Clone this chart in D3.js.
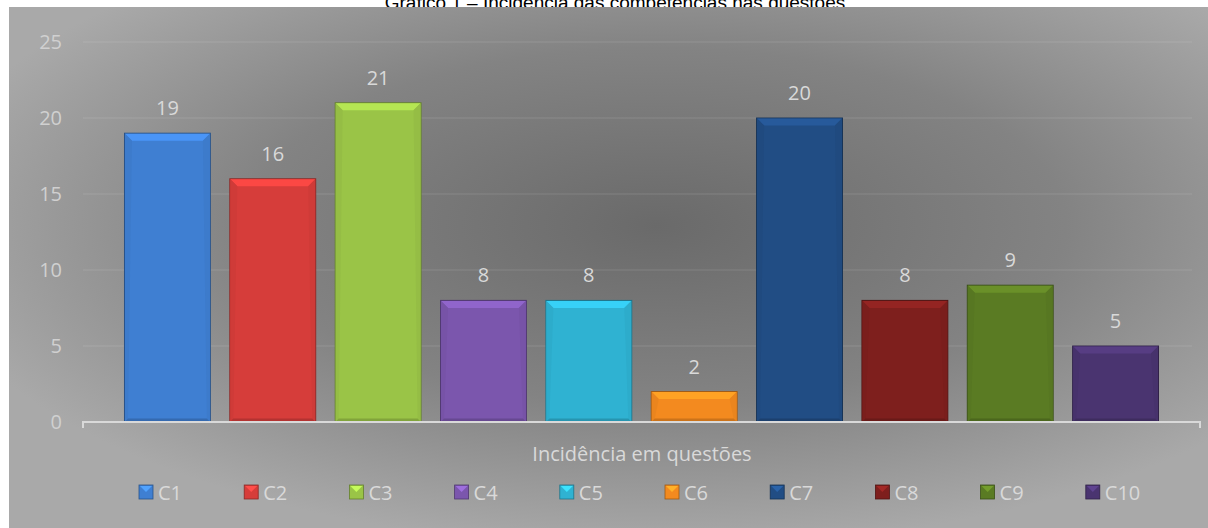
<!DOCTYPE html>
<html lang="pt">
<head>
<meta charset="UTF-8">
<title>Gráfico 1</title>
<script src="https://cdn.jsdelivr.net/npm/d3@7"></script>
<style>
  body { margin: 0; background: #fff; }
  text { font-family: "Open Sans", sans-serif; }
</style>
</head>
<body>
<script>
    // dados do gráfico
    var categories = ["C1", "C2", "C3", "C4", "C5", "C6", "C7", "C8", "C9", "C10"];
    var values = [19, 16, 21, 8, 8, 2, 20, 8, 9, 5];
    var colors = ["#3f7fd2", "#d63d3a", "#9ac447", "#7b56ad", "#2fb2d2", "#f38a1f", "#214d84", "#7e1f1d", "#5a7b23", "#4a3470"];
    var yTicks = [0, 5, 10, 15, 20, 25];

    var width = 1208, height = 528;

    var svg = d3.select("body").append("svg")
        .attr("width", width)
        .attr("height", height);

    var defs = svg.append("defs");
    var bg = defs.append("radialGradient")
        .attr("id", "bg")
        .attr("cx", 0.54).attr("cy", 0.42).attr("r", 0.62);
    bg.append("stop").attr("offset", 0).attr("stop-color", "#6a6a6a");
    bg.append("stop").attr("offset", 0.55).attr("stop-color", "#838383");
    bg.append("stop").attr("offset", 1).attr("stop-color", "#a9a9a9");

    // título (parcialmente coberto pela área do gráfico)
    svg.append("text")
        .attr("x", 615).attr("y", 9)
        .attr("text-anchor", "middle")
        .style("font-family", "'Liberation Sans', Arial, sans-serif")
        .style("font-size", "19px")
        .attr("fill", "#000")
        .text("Gráfico 1 – Incidência das competências nas questões");

    svg.append("rect")
        .attr("x", 9).attr("y", 7)
        .attr("width", width - 9).attr("height", height - 7)
        .attr("fill", "url(#bg)");

    var x = d3.scaleBand()
        .domain(categories)
        .range([115, 1168])
        .paddingInner(0.185)
        .paddingOuter(0.09);

    var y = d3.scaleLinear()
        .domain([0, 25])
        .range([422, 42]);

    var axisLeft = 83, axisRight = 1200;

    // linhas de grade
    svg.selectAll(".grid")
        .data(yTicks.filter(function (d) { return d > 0; }))
        .enter().append("line")
        .attr("x1", axisLeft).attr("x2", axisRight - 8)
        .attr("y1", function (d) { return y(d); })
        .attr("y2", function (d) { return y(d); })
        .attr("stroke", "rgba(255,255,255,0.13)")
        .attr("stroke-width", 1.2);

    // rótulos do eixo y
    var gy = svg.append("g")
        .attr("transform", "translate(62,0)")
        .call(d3.axisLeft(y).tickValues(yTicks).tickSize(0).tickPadding(0));
    gy.select(".domain").remove();
    gy.selectAll("text")
        .attr("fill", "#d0d0d0")
        .style("font-size", "20px")
        .style("font-family", "'Open Sans', sans-serif");

    // barras com efeito de chanfro
    var bw = x.bandwidth();
    var bars = svg.selectAll(".bar")
        .data(values)
        .enter().append("g")
        .attr("class", "bar");

    bars.append("rect")
        .attr("x", function (d, i) { return x(categories[i]); })
        .attr("y", function (d) { return y(d); })
        .attr("width", bw)
        .attr("height", function (d) { return y(0) - y(d); })
        .attr("fill", function (d, i) { return colors[i]; })
        .attr("stroke", function (d, i) { return d3.color(colors[i]).darker(1.2); })
        .attr("stroke-width", 1);

    var bev = 7, side = 3;
    // topo claro
    bars.append("path")
        .attr("d", function (d, i) {
            var x0 = x(categories[i]) + 0.5, x1 = x0 + bw - 1, y0 = y(d) + 0.5;
            return "M" + x0 + "," + y0 + "L" + x1 + "," + y0 + "L" + (x1 - bev) + "," + (y0 + bev) +
                   "L" + (x0 + bev) + "," + (y0 + bev) + "Z";
        })
        .attr("fill", function (d, i) { return d3.color(colors[i]).brighter(0.45); });
    // lados
    bars.append("path")
        .attr("d", function (d, i) {
            var x0 = x(categories[i]) + 0.5, x1 = x0 + bw - 1, y0 = y(d) + 0.5, y1 = y(0) - 0.5;
            return "M" + x0 + "," + y0 + "L" + (x0 + bev) + "," + (y0 + bev) + "L" + (x0 + side) + "," + (y1 - side) +
                   "L" + x0 + "," + y1 + "Z" +
                   "M" + x1 + "," + y0 + "L" + (x1 - bev) + "," + (y0 + bev) + "L" + (x1 - side) + "," + (y1 - side) +
                   "L" + x1 + "," + y1 + "Z";
        })
        .attr("fill", function (d, i) { return d3.color(colors[i]).darker(0.1); });
    // base escura
    bars.append("path")
        .attr("d", function (d, i) {
            var x0 = x(categories[i]) + 0.5, x1 = x0 + bw - 1, y1 = y(0) - 0.5;
            return "M" + x0 + "," + y1 + "L" + x1 + "," + y1 + "L" + (x1 - side) + "," + (y1 - side) +
                   "L" + (x0 + side) + "," + (y1 - side) + "Z";
        })
        .attr("fill", function (d, i) { return d3.color(colors[i]).darker(0.5); });

    // rótulos dos valores
    svg.selectAll(".val")
        .data(values)
        .enter().append("text")
        .attr("x", function (d, i) { return x(categories[i]) + bw / 2; })
        .attr("y", function (d) { return y(d) - 18; })
        .attr("text-anchor", "middle")
        .attr("fill", "#d9d9d9")
        .style("font-size", "20px")
        .text(function (d) { return d; });

    // eixo x
    svg.append("path")
        .attr("d", "M" + axisLeft + "," + (y(0) + 6) + "V" + y(0) + "H" + axisRight + "V" + (y(0) + 6))
        .attr("fill", "none")
        .attr("stroke", "#d9d9d9")
        .attr("stroke-width", 2);

    svg.append("text")
        .attr("x", 642).attr("y", 461)
        .attr("text-anchor", "middle")
        .attr("fill", "#d9d9d9")
        .style("font-size", "20px")
        .text("Incidência em questões");

    // legenda
    var lx = d3.scaleBand().domain(categories).range([139, 139 + 105.2 * 10]);
    var leg = svg.selectAll(".leg")
        .data(categories)
        .enter().append("g")
        .attr("transform", function (d) { return "translate(" + lx(d) + ",485)"; });

    leg.append("rect")
        .attr("width", 14).attr("height", 14)
        .attr("fill", function (d, i) { return colors[i]; })
        .attr("stroke", function (d, i) { return d3.color(colors[i]).darker(1.2); })
        .attr("stroke-width", 0.8);
    leg.append("path")
        .attr("d", "M1,1L13,1L7,7Z")
        .attr("fill", function (d, i) { return d3.color(colors[i]).brighter(0.7); });
    leg.append("text")
        .attr("x", 19).attr("y", 14.5)
        .attr("fill", "#d9d9d9")
        .style("font-size", "20px")
        .text(function (d) { return d; });
</script>
</body>
</html>
